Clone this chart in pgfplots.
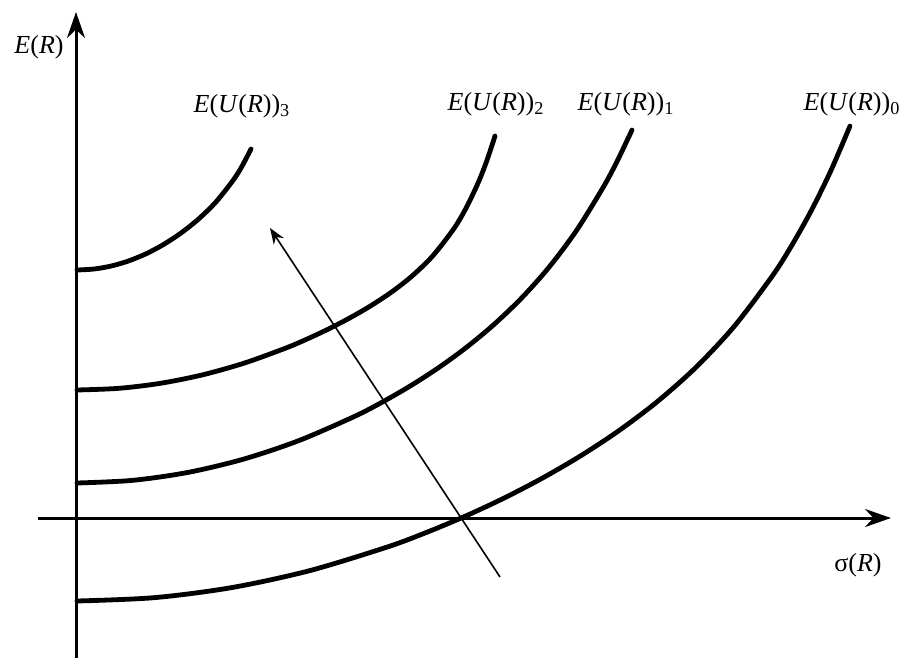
\documentclass[border=0pt]{standalone}
\usepackage{pgfplots}
\pgfplotsset{compat=1.18}
\usepackage{fontspec}
\setmainfont{Liberation Serif}
\usetikzlibrary{arrows.meta}
\begin{document}
\begin{tikzpicture}
\begin{axis}[
  width=454pt, height=329pt, scale only axis,
  xmin=0, xmax=908, ymin=0, ymax=658, y dir=reverse,
  hide axis, clip=false,
]
% axes
\addplot[black, line width=1.5pt, -{Stealth[length=13pt,width=9pt]}] coordinates {(76,658) (76,12)};
\addplot[black, line width=1.5pt, -{Stealth[length=13pt,width=9pt]}] coordinates {(38,518) (891,518)};
% indifference curves
\addplot[black, line width=2.4pt, smooth, line cap=round] coordinates {(77,270) (94.4,268.97) (111.8,265.88) (129.2,260.73) (146.6,253.52) (164,244.21) (181.4,232.74) (198.8,218.8) (216.2,201.66) (233.6,179.6) (242.3,165.7) (251,149)};
\addplot[black, line width=2.4pt, smooth, line cap=round] coordinates {(77,390) (118.8,388.32) (160.6,383.28) (202.4,374.88) (244.2,363.12) (286,347.98) (306.9,339.11) (327.8,329.33) (348.7,318.53) (369.6,306.49) (390.5,292.78) (411.4,276.57) (432.3,256.39) (453.2,229.63) (465.74,208.7) (478.28,182.5) (486.64,161.2) (495,136)};
\addplot[black, line width=2.4pt, smooth, line cap=round] coordinates {(77,483) (132.5,480.35) (188,472.4) (243.5,459.14) (299,440.54) (354.5,416.41) (382.25,402.1) (410,386.12) (437.75,368.23) (465.5,348.08) (493.25,325.13) (521,298.63) (548.75,267.56) (576.5,230.47) (604.25,185.46) (618.1,159.22) (632,130)};
\addplot[black, line width=2.4pt, smooth, line cap=round] coordinates {(77,601) (154.3,597.65) (231.6,587.6) (308.9,570.85) (386.2,547.36) (424.85,533.06) (463.5,516.98) (502.15,499.01) (540.8,478.99) (579.45,456.56) (618.1,431.2) (656.75,402.05) (695.4,367.81) (734.05,326.54) (772.7,275.41) (792.03,244.94) (811.35,210.43) (830.68,171.05) (850,126)};
% direction arrow
\addplot[black, line width=0.8pt, -{Stealth[length=8pt,width=6pt]}] coordinates {(500,577) (270,228)};
% labels
\node[font=\fontsize{13}{15}\selectfont] at (axis cs:39,47) {\textit{E}(\textit{R})};
\node[font=\fontsize{13}{15}\selectfont] at (axis cs:242,106) {\textit{E}(\textit{U}(\textit{R}))\textsubscript{3}};
\node[font=\fontsize{13}{15}\selectfont] at (axis cs:496,104) {\textit{E}(\textit{U}(\textit{R}))\textsubscript{2}};
\node[font=\fontsize{13}{15}\selectfont] at (axis cs:626,104) {\textit{E}(\textit{U}(\textit{R}))\textsubscript{1}};
\node[font=\fontsize{13}{15}\selectfont] at (axis cs:852,104) {\textit{E}(\textit{U}(\textit{R}))\textsubscript{0}};
\node[font=\fontsize{13}{15}\selectfont] at (axis cs:858,565) {σ(\textit{R})};
\end{axis}
\pgfresetboundingbox
\path[use as bounding box] (current axis.south west) rectangle (current axis.north east);
\end{tikzpicture}
\end{document}
